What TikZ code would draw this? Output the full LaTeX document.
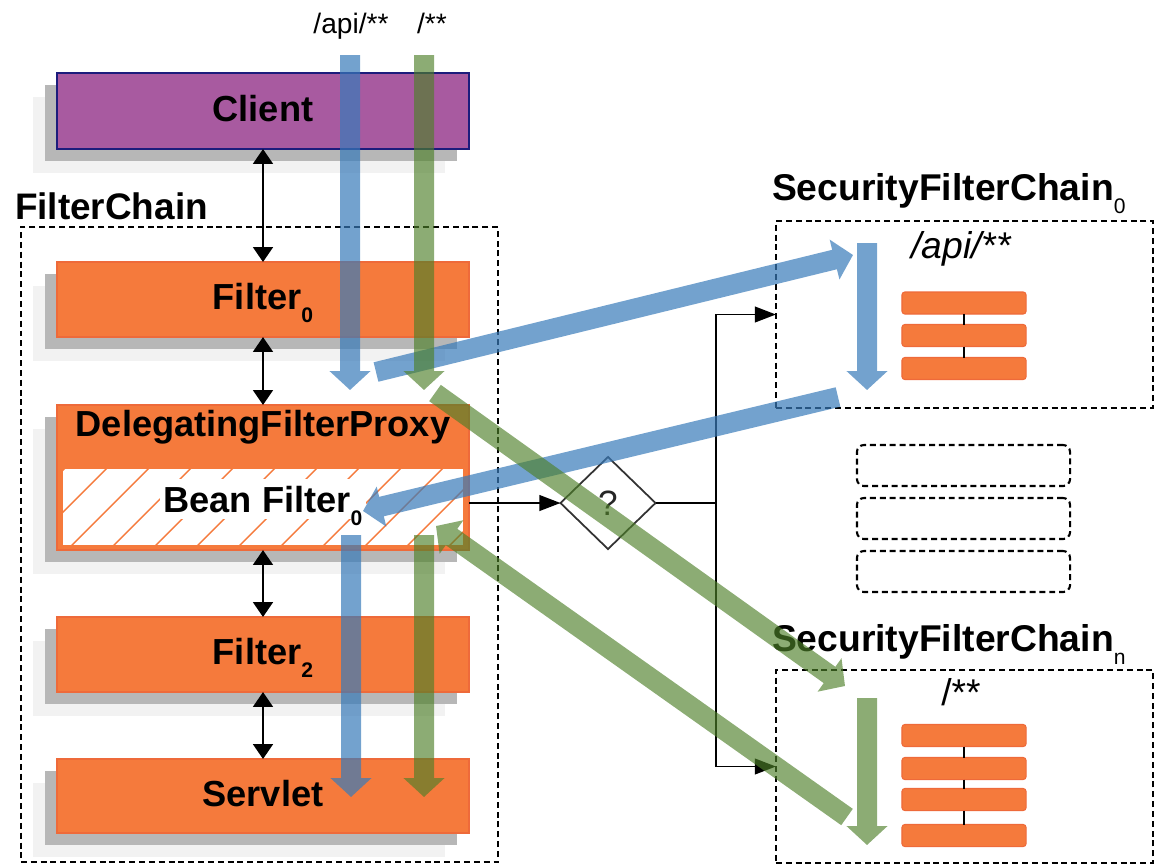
\documentclass[tikz,border=0pt]{standalone}
\usepackage{fontspec}
\setmainfont{Liberation Sans}
\usetikzlibrary{positioning, arrows.meta, shapes.geometric, shadows}

\definecolor{clientfill}{HTML}{A85AA0}
\definecolor{clientline}{HTML}{1C1C7C}
\definecolor{filterfill}{HTML}{F57A3C}
\definecolor{filterline}{HTML}{EE6A3A}
\definecolor{shadowgray}{HTML}{B7B7B7}
\definecolor{shadowfaint}{HTML}{F2F2F2}
\definecolor{apiblue}{HTML}{387AB9}
\definecolor{allgreen}{HTML}{4E8029}

\newcommand{\lowidx}[1]{\smash{\raisebox{-3.8pt}{\fontsize{6}{6}\selectfont #1}}}

\begin{document}
\begin{tikzpicture}[x=0.01cm,y=-0.01cm,
    every node/.style={inner sep=0pt,outer sep=0pt},
    boxtext/.style={font=\fontsize{10.3}{12}\selectfont\bfseries,text height=7.4pt,text depth=1.7pt},
    shadowed/.style={general shadow={fill=shadowfaint,shadow xshift=-0.24cm,shadow yshift=-0.24cm},
                     general shadow={fill=shadowgray,shadow xshift=-0.12cm,shadow yshift=-0.12cm}},
    filterbox/.style={boxtext,shadowed,draw=filterline,fill=filterfill,line width=0.4pt,minimum width=4.12cm,minimum height=0.75cm},
    chainbox/.style={draw,line width=0.6pt,dash pattern=on 1.7pt off 1.1pt},
    mini/.style={fill=filterfill,draw=filterline,line width=0.3pt,rounded corners=0.8pt,minimum width=1.24cm,minimum height=0.22cm},
    dbl/.style={line width=0.6pt,{Triangle[length=4.2pt,width=5.6pt]}-{Triangle[length=4.2pt,width=5.6pt]}},
    conn/.style={line width=0.45pt,-{Triangle[length=6pt,width=4.5pt]}},
    flow/.style={line width=0.2cm,-{Triangle[length=0pt 0.95,width=0pt 2]}}]
    \useasboundingbox (0,0) rectangle (1158,866);

    % cadenas de filtros (cajas punteadas)
    \node[chainbox,minimum width=4.77cm,minimum height=6.35cm] (chain) at (259.5,544.5) {};
    \node[chainbox,minimum width=3.77cm,minimum height=1.87cm] (sfc0) at (964.5,314.5) {};
    \node[chainbox,minimum width=3.77cm,minimum height=1.93cm] (sfcn) at (964.5,766.5) {};
    \foreach \y [count=\i] in {465.5,518.5,571.5}
        \node[chainbox,rounded corners=2pt,minimum width=2.13cm,minimum height=0.41cm] (more\i) at (963.5,\y) {};

    \node[font=\fontsize{10.5}{12}\selectfont\bfseries,anchor=base west] (chainlbl) at (15,219) {FilterChain};
    \node[font=\fontsize{10.6}{12}\selectfont\bfseries,anchor=base west] (sfc0lbl) at (772,200) {SecurityFilterChain\lowidx{\mdseries 0}};
    \node[font=\fontsize{10.6}{12}\selectfont\bfseries,anchor=base west] (sfcnlbl) at (772,651) {SecurityFilterChain\lowidx{\mdseries n}};
    \node[font=\fontsize{10.6}{12}\selectfont\itshape,anchor=base] (sfc0path) at (961,258) {/api/**};
    \node[font=\fontsize{10.6}{12}\selectfont,anchor=base] (sfcnpath) at (961,705) {/**};

    % filtros de cada SecurityFilterChain
    \foreach \y [count=\i] in {303,335.5,368.5}
        \node[mini] (a\i) at (964,\y) {};
    \draw[line width=0.4pt] (a1) -- (a2) (a2) -- (a3);
    \foreach \y [count=\i] in {735.5,768.5,799.5,835.5}
        \node[mini] (b\i) at (964,\y) {};
    \draw[line width=0.4pt] (b1) -- (b2) (b2) -- (b3) (b3) -- (b4);

    % cajas de la FilterChain
    \node[boxtext,shadowed,draw=clientline,fill=clientfill,line width=0.6pt,minimum width=4.12cm,minimum height=0.76cm] (client) at (263,111) {Client};
    \node[filterbox] (f0) at (263,299.5) {Filter\lowidx{0}};
    \node[filterbox,minimum height=1.45cm] (dfp) at (263,477.5) {};
    \node[filterbox] (f2) at (263,654.5) {Filter\lowidx{2}};
    \node[filterbox,minimum height=0.74cm] (servlet) at (263,796) {Servlet};
    \node[boxtext,anchor=base,text height=,text depth=] (dfplbl) at (263,436) {DelegatingFilterProxy};

    \node[draw=filterfill,fill=white,line width=0.8pt,minimum width=4.02cm,minimum height=0.78cm] (bean) at (263,507) {};
    \begin{scope}
        \clip (bean.south west) rectangle (bean.north east);
        \foreach \k in {-2,...,10}
            \draw[filterfill,line width=0.4pt] (107+42*\k,468) -- ++(-78,78);
    \end{scope}
    \draw[filterfill,line width=0.8pt] (bean.south west) rectangle (bean.north east);
    \node[boxtext,anchor=base,text height=,text depth=,fill=white,inner xsep=1pt,inner ysep=2pt] (beanlbl) at (263,512) {Bean Filter\lowidx{0}};

    \draw[dbl] (client) -- (f0);
    \draw[dbl] (f0) -- (dfp);
    \draw[dbl] (dfp) -- (f2);
    \draw[dbl] (f2) -- (servlet);

    % eleccion de la cadena
    \node[diamond,draw=black!80,line width=0.5pt,minimum width=0.95cm,minimum height=0.92cm,
          font=\fontsize{10}{12}\selectfont,text=black!85] (choose) at (608,503) {?};
    \coordinate (split) at (716,503);
    \draw[conn] (dfp.east |- choose) -- (choose.west);
    \draw[line width=0.45pt] (choose.east) -- (split);
    \draw[conn] (split) |- (sfc0.west);
    \draw[conn] (split) |- (sfcn.west);

    % peticiones
    \node[font=\fontsize{8}{10}\selectfont,anchor=base] (lapi) at (351,33) {/api/**};
    \node[font=\fontsize{8}{10}\selectfont,anchor=base] (lall) at (432,33) {/**};

    \coordinate (api1) at (350,55);   \coordinate (api2) at (350,390);
    \coordinate (api3) at (376,372);  \coordinate (api4) at (853,255);
    \coordinate (api5) at (867,243);  \coordinate (api6) at (867,390);
    \coordinate (api7) at (838,397);  \coordinate (api8) at (363,511);
    \coordinate (api9) at (351,535);  \coordinate (api10) at (351,797);
    \coordinate (all1) at (424,55);   \coordinate (all2) at (424,390);
    \coordinate (all3) at (435,393);  \coordinate (all4) at (845,686);
    \coordinate (all5) at (867,698);  \coordinate (all6) at (867,845);
    \coordinate (all7) at (847,817);  \coordinate (all8) at (436,526);
    \coordinate (all9) at (424,535);  \coordinate (all10) at (424,797);

    \begin{scope}[transparency group,opacity=0.7]
        \draw[flow,apiblue] (api1) -- (api2);
        \draw[flow,apiblue] (api3) -- (api4);
        \draw[flow,apiblue] (api5) -- (api6);
        \draw[flow,apiblue] (api7) -- (api8);
        \draw[flow,apiblue] (api9) -- (api10);
    \end{scope}
    \begin{scope}[transparency group,opacity=0.65]
        \draw[flow,allgreen] (all1) -- (all2);
        \draw[flow,allgreen] (all3) -- (all4);
        \draw[flow,allgreen] (all5) -- (all6);
        \draw[flow,allgreen] (all7) -- (all8);
        \draw[flow,allgreen] (all9) -- (all10);
    \end{scope}
\end{tikzpicture}
\end{document}
